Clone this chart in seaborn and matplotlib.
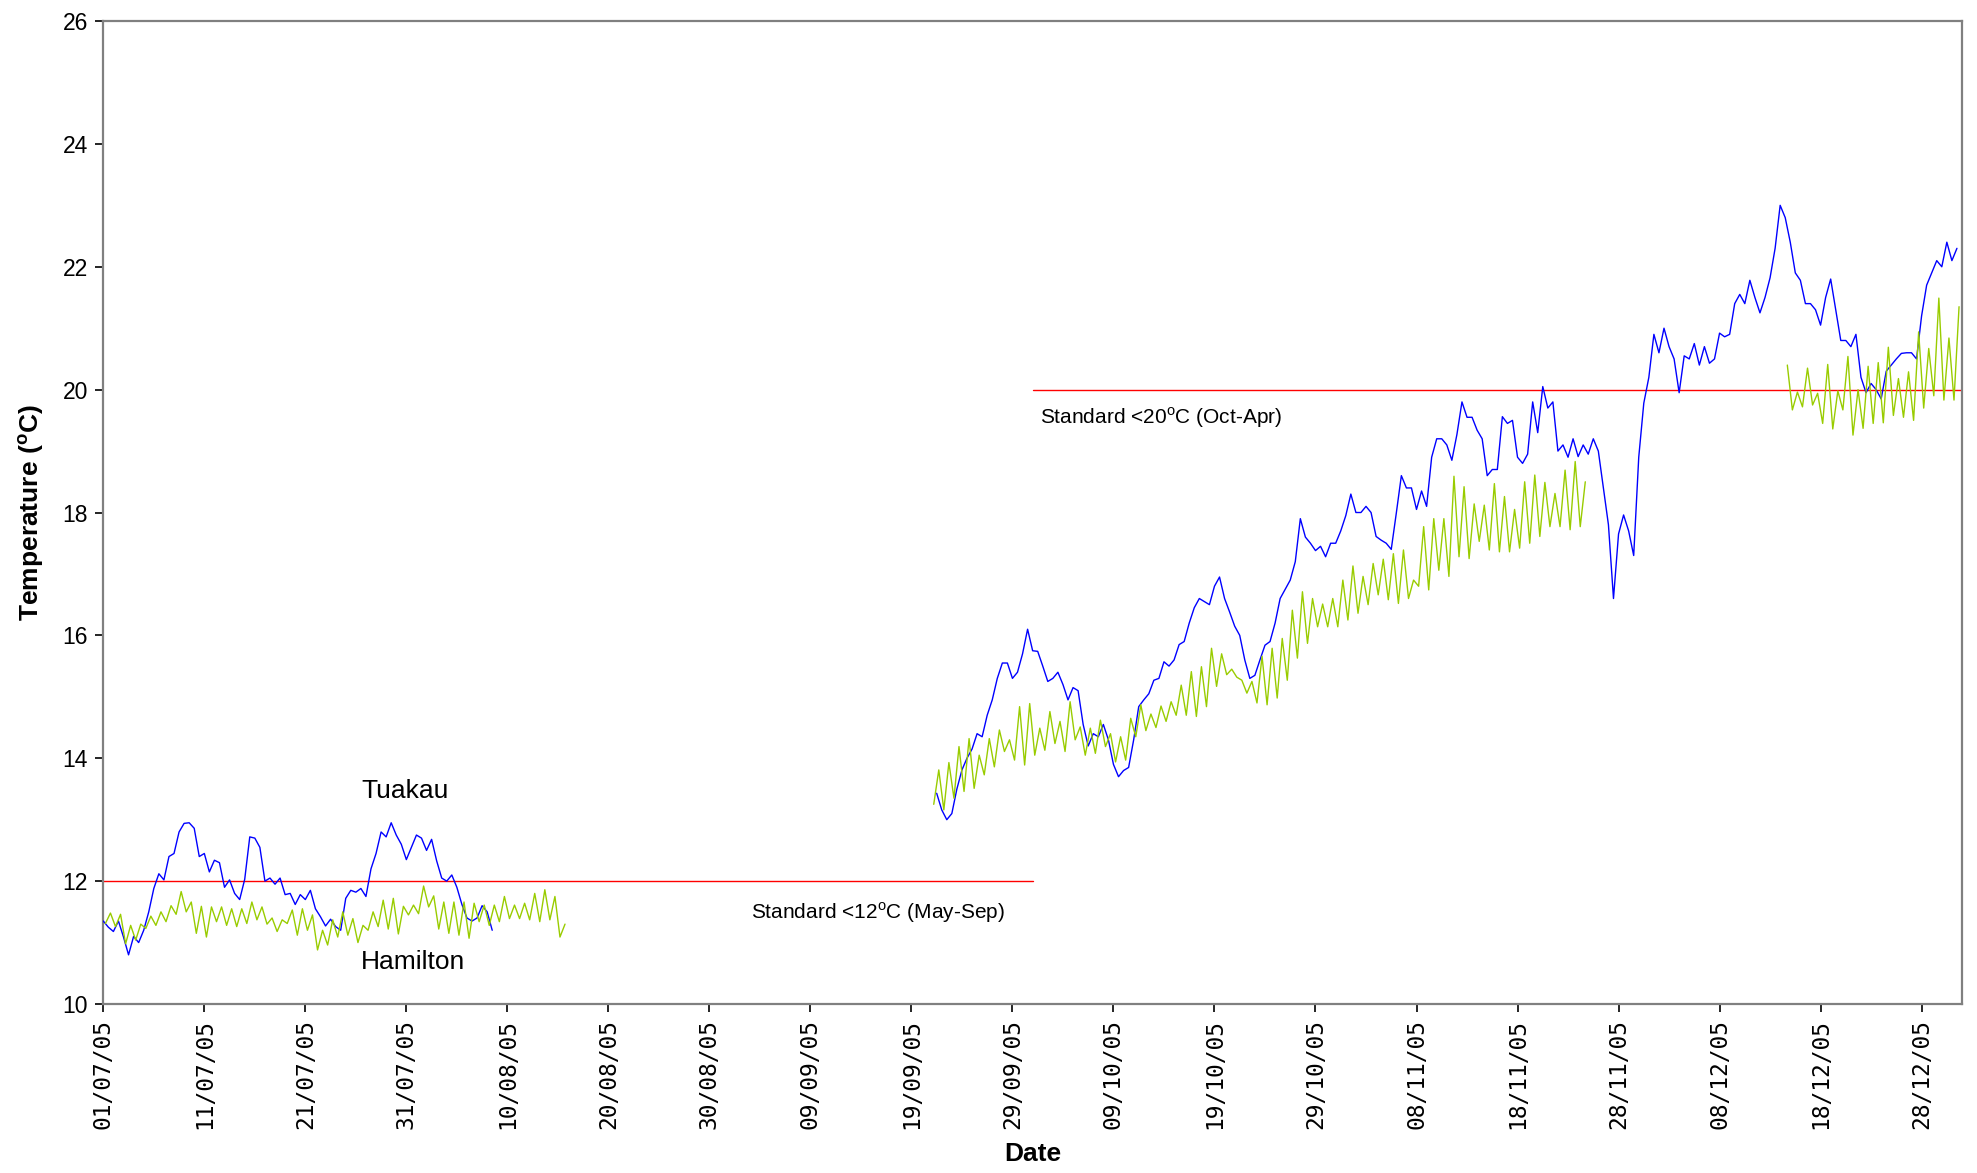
import matplotlib
matplotlib.use("Agg")
import matplotlib.pyplot as plt
import numpy as np
import pandas as pd
import seaborn as sns

# ---- data (12-hourly samples) ----
tuakau_start_1 = "2005-07-01 00:00"
tuakau_1 = [
    11.35, 11.25, 11.18, 11.35, 11.09, 10.80, 11.10, 11.00, 11.20, 11.50,
    11.88, 12.12, 12.02, 12.40, 12.45, 12.80, 12.94, 12.95, 12.86, 12.40,
    12.45, 12.15, 12.34, 12.30, 11.90, 12.02, 11.80, 11.70, 12.03, 12.72,
    12.70, 12.55, 12.00, 12.05, 11.95, 12.05, 11.78, 11.80, 11.62, 11.78,
    11.70, 11.85, 11.55, 11.42, 11.27, 11.38, 11.26, 11.20, 11.72, 11.85,
    11.82, 11.88, 11.75, 12.20, 12.45, 12.80, 12.72, 12.95, 12.75, 12.60,
    12.35, 12.55, 12.75, 12.70, 12.50, 12.68, 12.33, 12.05, 12.00, 12.10,
    11.90, 11.62, 11.40, 11.35, 11.40, 11.60, 11.50, 11.20,
]

tuakau_start_2 = "2005-09-21 12:00"
tuakau_2 = [
    13.43, 13.16, 13.00, 13.10, 13.50, 13.81, 14.00, 14.15, 14.40, 14.35,
    14.70, 14.95, 15.30, 15.55, 15.55, 15.30, 15.40, 15.70, 16.10, 15.75,
    15.74, 15.50, 15.25, 15.30, 15.40, 15.20, 14.95, 15.15, 15.10, 14.55,
    14.20, 14.40, 14.35, 14.55, 14.30, 13.90, 13.70, 13.80, 13.85, 14.30,
    14.84, 14.95, 15.05, 15.27, 15.30, 15.57, 15.50, 15.60, 15.85, 15.90,
    16.20, 16.45, 16.60, 16.55, 16.50, 16.80, 16.95, 16.60, 16.38, 16.15,
    16.00, 15.60, 15.30, 15.35, 15.60, 15.84, 15.90, 16.20, 16.60, 16.75,
    16.90, 17.20, 17.90, 17.60, 17.50, 17.38, 17.45, 17.28, 17.50, 17.50,
    17.70, 17.95, 18.30, 18.00, 18.00, 18.10, 18.00, 17.61, 17.55, 17.50,
    17.40, 17.99, 18.60, 18.40, 18.40, 18.05, 18.35, 18.10, 18.90, 19.20,
    19.20, 19.10, 18.85, 19.27, 19.80, 19.55, 19.55, 19.34, 19.20, 18.60,
    18.70, 18.70, 19.56, 19.45, 19.50, 18.90, 18.80, 18.95, 19.80, 19.30,
    20.05, 19.70, 19.80, 19.00, 19.10, 18.90, 19.20, 18.91, 19.10, 18.95,
    19.20, 19.00, 18.40, 17.80, 16.60, 17.65, 17.96, 17.70, 17.30, 18.90,
    19.78, 20.20, 20.90, 20.60, 21.00, 20.70, 20.50, 19.95, 20.55, 20.50,
    20.75, 20.40, 20.70, 20.43, 20.50, 20.92, 20.86, 20.90, 21.40, 21.55,
    21.40, 21.78, 21.50, 21.25, 21.50, 21.82, 22.30, 23.00, 22.80, 22.40,
    21.90, 21.78, 21.40, 21.40, 21.30, 21.05, 21.50, 21.80, 21.30, 20.80,
    20.80, 20.70, 20.90, 20.20, 19.95, 20.10, 20.00, 19.85, 20.30, 20.40,
    20.50, 20.59, 20.60, 20.60, 20.50, 21.20, 21.70, 21.90, 22.10, 22.00,
    22.40, 22.10, 22.30,
]

hamilton_start_1 = "2005-07-01 05:00"
hamilton_1 = [
    11.31, 11.48, 11.26, 11.46, 10.98, 11.28, 11.04, 11.30, 11.23, 11.43,
    11.28, 11.50, 11.34, 11.60, 11.46, 11.83, 11.50, 11.66, 11.15, 11.59,
    11.09, 11.58, 11.34, 11.58, 11.28, 11.55, 11.26, 11.55, 11.31, 11.66,
    11.37, 11.58, 11.30, 11.40, 11.18, 11.37, 11.31, 11.53, 11.12, 11.55,
    11.20, 11.45, 10.88, 11.20, 10.96, 11.37, 11.09, 11.50,
    11.12, 11.39, 11.00, 11.28, 11.20, 11.50, 11.26, 11.69, 11.22, 11.72,
    11.14, 11.59, 11.45, 11.61, 11.47, 11.92, 11.58, 11.76, 11.22, 11.66,
    11.15, 11.66, 11.12, 11.66, 11.07, 11.64, 11.34, 11.61, 11.28, 11.61,
    11.34, 11.75, 11.39, 11.61, 11.39, 11.64, 11.37, 11.80, 11.34, 11.86,
    11.37, 11.75, 11.09, 11.30,
]

hamilton_start_2 = "2005-09-21 05:00"
hamilton_2 = [
    13.25, 13.81, 13.16, 13.93, 13.35, 14.19, 13.46, 14.32, 13.51, 14.05,
    13.73, 14.32, 13.86, 14.46, 14.11, 14.30, 13.97, 14.84, 13.89, 14.89,
    14.05, 14.49, 14.13, 14.76, 14.24, 14.60, 14.11, 14.92, 14.30, 14.51,
    14.05, 14.49, 14.08, 14.62, 14.19, 14.40, 13.94, 14.35, 13.97, 14.65,
    14.35, 14.87, 14.45, 14.72, 14.50, 14.85, 14.60, 14.92, 14.70, 15.19,
    14.70, 15.41, 14.68, 15.49, 14.84, 15.79, 15.17, 15.70, 15.36, 15.45,
    15.32, 15.27, 15.06, 15.25, 14.90, 15.66, 14.87, 15.79, 14.98, 15.95,
    15.27, 16.41, 15.63, 16.71, 15.87, 16.60, 16.14, 16.51, 16.14, 16.60,
    16.14, 16.90, 16.25, 17.13, 16.36, 16.96, 16.50, 17.17, 16.66, 17.24,
    16.58, 17.33, 16.52, 17.39, 16.60, 16.90, 16.80, 17.77, 16.74, 17.90,
    17.06, 17.90, 16.96, 18.59, 17.28, 18.42, 17.25, 18.14, 17.53, 18.12,
    17.39, 18.47, 17.36, 18.26, 17.36, 18.05, 17.42, 18.50, 17.50, 18.61,
    17.61, 18.49, 17.77, 18.31, 17.77, 18.69, 17.72, 18.83, 17.77, 18.50,
]

hamilton_start_3 = "2005-12-14 17:00"
hamilton_3 = [
    20.40, 19.67, 19.96, 19.72, 20.35, 19.75, 19.94, 19.45, 20.41, 19.36,
    19.98, 19.67, 20.54, 19.26, 20.00, 19.37, 20.38, 19.45, 20.44, 19.46,
    20.69, 19.58, 20.18, 19.55, 20.29, 19.50, 20.94, 19.70, 20.67, 19.90,
    21.49, 19.83, 20.84, 19.83, 21.35,
]

std_start = ["2005-07-01", "2005-10-01"]
std_end = ["2005-10-01", "2006-01-01"]
std_level = [12, 20]
std_labels = ["Standard <12$^{\\mathrm{o}}$C (May-Sep)", "Standard <20$^{\\mathrm{o}}$C (Oct-Apr)"]

tick_dates = pd.date_range("2005-07-01", periods=19, freq="10D")
tick_labels = [d.strftime("%d/%m/%y") for d in tick_dates]
y_ticks = [10, 12, 14, 16, 18, 20, 22, 24, 26]


def make_frame(parts):
    rows = []
    for seg, (start, vals) in enumerate(parts):
        t = pd.date_range(start, periods=len(vals), freq="12h")
        rows.append(pd.DataFrame({"time": t, "temp": vals, "segment": seg}))
    return pd.concat(rows, ignore_index=True)


df_tuakau = make_frame([(tuakau_start_1, tuakau_1), (tuakau_start_2, tuakau_2)])
df_hamilton = make_frame([(hamilton_start_1, hamilton_1), (hamilton_start_2, hamilton_2),
                          (hamilton_start_3, hamilton_3)])

# ---- style ----
sns.set_theme(style="white", rc={"text.color": "black", "axes.labelcolor": "black",
                                 "xtick.color": "black", "ytick.color": "black"})
plt.rcParams["font.family"] = ["Liberation Sans", "DejaVu Sans"]
plt.rcParams["mathtext.fontset"] = "custom"
plt.rcParams["mathtext.rm"] = "Liberation Sans"
plt.rcParams["mathtext.bf"] = "Liberation Sans:bold"

fig = plt.figure(figsize=(19.77, 11.73), dpi=100)
ax = fig.add_axes([0.05225, 0.14408, 0.94016, 0.83800])

for s, e, lvl in zip(std_start, std_end, std_level):
    ax.plot([pd.Timestamp(s), pd.Timestamp(e)], [lvl, lvl], color="#ff0000", lw=1.0, zorder=2)

sns.lineplot(data=df_tuakau, x="time", y="temp", units="segment", estimator=None,
             color="#0000ff", lw=1.0, ax=ax, zorder=3)
sns.lineplot(data=df_hamilton, x="time", y="temp", units="segment", estimator=None,
             color="#99cc00", lw=1.0, ax=ax, zorder=4)

ax.set_xlim(pd.Timestamp("2005-07-01"), pd.Timestamp("2006-01-01"))
ax.set_ylim(10, 26)
ax.set_yticks(y_ticks)
ax.set_xticks(tick_dates)
ax.set_xticklabels(tick_labels, rotation=90, fontsize=16.5, family="DejaVu Sans Mono")
ax.tick_params(axis="y", labelsize=16.5, length=6, width=1.2, pad=5, left=True)
ax.tick_params(axis="x", length=6, width=1.2, pad=5, bottom=True)
for sp in ax.spines.values():
    sp.set_color("#808080")
    sp.set_linewidth(1.6)

ax.set_xlabel("Date", fontsize=19, fontweight="bold")
ax.set_ylabel("Temperature ($\\mathbf{^{o}}$C)", fontsize=19, fontweight="bold")
ax.xaxis.set_label_coords(0.5, -0.140)
ax.yaxis.set_label_coords(-0.031, 0.5)

# annotations
ax.text(pd.Timestamp("2005-07-26 12:00"), 13.47, "Tuakau", fontsize=19, va="center", ha="left")
ax.text(pd.Timestamp("2005-07-26 12:00"), 10.68, "Hamilton", fontsize=19, va="center", ha="left")
ax.text(pd.Timestamp("2005-09-03 02:00"), 11.48, std_labels[0], fontsize=15, va="center", ha="left")
ax.text(pd.Timestamp("2005-10-01 17:00"), 19.55, std_labels[1], fontsize=15, va="center", ha="left")

fig.savefig("out.png", dpi=100, facecolor="white")
